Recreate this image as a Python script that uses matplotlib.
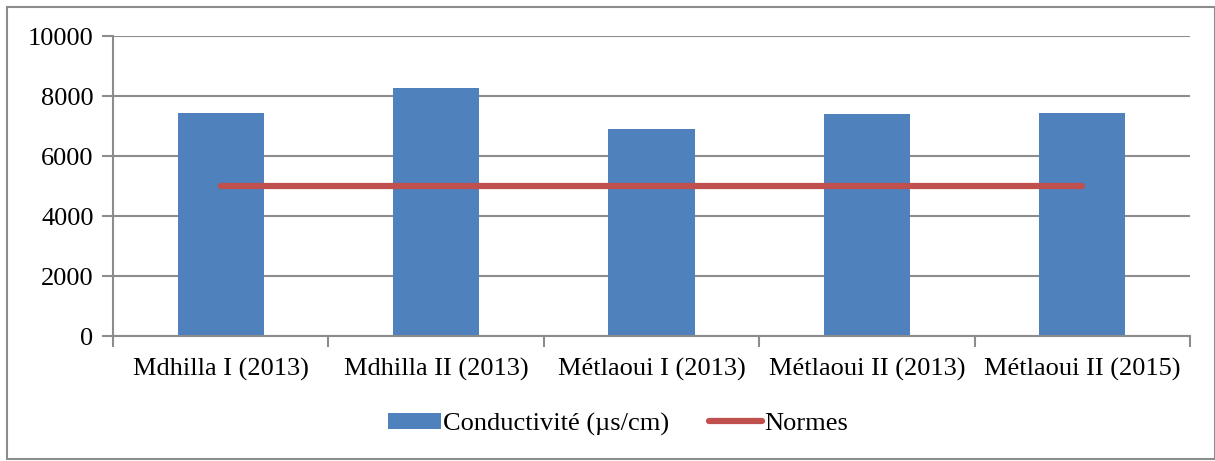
import matplotlib.pyplot as plt
from matplotlib.patches import Rectangle, Patch
from matplotlib.lines import Line2D
import numpy as np

categories = ["Mdhilla I (2013)", "Mdhilla II (2013)", "Métlaoui I (2013)",
              "Métlaoui II (2013)", "Métlaoui II (2015)"]
conductivite = [7430, 8270, 6890, 7400, 7430]
normes = [5000, 5000, 5000, 5000, 5000]

W, H = 1215, 461
plt.rcParams['font.family'] = ['Liberation Serif', 'DejaVu Serif']
plt.rcParams['font.size'] = 19

fig = plt.figure(figsize=(W / 100, H / 100), dpi=100)
# plot area in pixels: left 113, right 1190, top 36, bottom 336
ax = fig.add_axes([113 / W, 1 - 336 / H, (1190 - 113) / W, (336 - 36) / H])

x = np.arange(len(categories))
ax.bar(x, conductivite, width=0.4, color='#4F81BD', zorder=2)
ax.plot(x, normes, color='#C0504D', linewidth=4.5, solid_capstyle='round', zorder=3)

ax.set_xlim(-0.5, len(categories) - 0.5)
ax.set_ylim(0, 10000)
ax.set_yticks(np.arange(0, 10001, 2000))
ax.yaxis.grid(True, color='#8c8c8c', linewidth=1.5, zorder=0)
ax.set_axisbelow(True)

ax.set_xticks(np.arange(-0.5, len(categories), 1.0))
ax.set_xticklabels([])
ax.set_xticks(x, minor=True)
ax.set_xticklabels(categories, minor=True)
ax.tick_params(axis='x', which='minor', length=0, pad=16)
ax.tick_params(axis='x', which='major', length=8, width=1.5, color='#8c8c8c')
ax.tick_params(axis='y', length=8, width=1.5, color='#8c8c8c', pad=6)

for s in ['top', 'right']:
    ax.spines[s].set_visible(False)
for s in ['left', 'bottom']:
    ax.spines[s].set_color('#8c8c8c')
    ax.spines[s].set_linewidth(1.5)

handles = [Patch(facecolor='#4F81BD', edgecolor='none'),
           Line2D([0], [0], color='#C0504D', linewidth=4.5, solid_capstyle='round')]
fig.legend(handles, ["Conductivité (µs/cm)", "Normes"], loc='center',
           bbox_to_anchor=(618 / W, 1 - 424 / H), ncol=2, frameon=False,
           handlelength=2.0, handleheight=0.55, handletextpad=0.1,
           columnspacing=1.5)

fig.patches.append(Rectangle((7 / W, 2 / H), 1 - 7 / W, 1 - 9 / H,
                             transform=fig.transFigure, fill=False,
                             edgecolor='#8c8c8c', linewidth=1.5))

fig.savefig('out.png', dpi=100)
